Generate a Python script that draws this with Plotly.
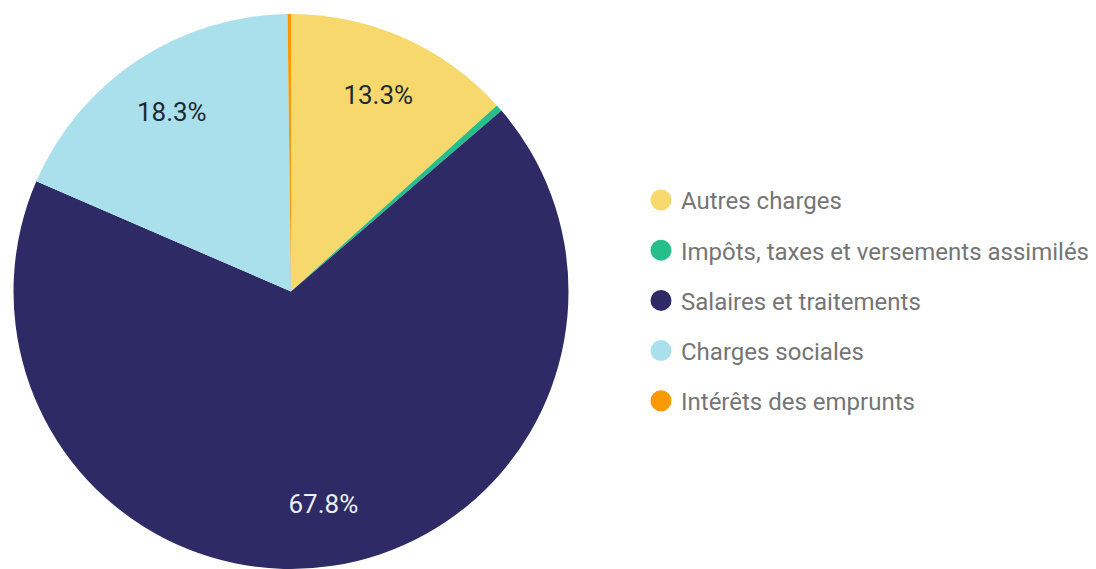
import plotly.graph_objects as go

categories = ["Autres charges", "Impôts, taxes et versements assimilés",
              "Salaires et traitements", "Charges sociales", "Intérêts des emprunts"]
values = [13.3, 0.4, 67.8, 18.3, 0.2]
colors = ["#F6D86C", "#26BE8A", "#2D2A66", "#AAE0EB", "#FA9A00"]
text_colors = ["#1F2A30", "#1F2A30", "#EDEDF5", "#1F2A30", "#1F2A30"]

labels_text = [f"{v:.1f}%" if v >= 1 else "" for v in values]

W, H = 1088, 561
pie_dom = dict(x=[5.5 / W, 560.5 / W], y=[0, 1])

fig = go.Figure()
# coloured slices
fig.add_trace(go.Pie(
    labels=categories, values=values, sort=False, direction="clockwise",
    rotation=0, marker=dict(colors=colors, line=dict(width=0)),
    textinfo="none", showlegend=False, hoverinfo="label+percent",
    domain=pie_dom,
))
# transparent ring carrying the percentage labels (places them toward the rim)
fig.add_trace(go.Pie(
    labels=categories, values=values, sort=False, direction="clockwise",
    rotation=0, hole=0.55,
    marker=dict(colors=["rgba(0,0,0,0)"] * len(values), line=dict(width=0)),
    text=labels_text, textinfo="text", textposition="inside",
    insidetextorientation="horizontal",
    insidetextfont=dict(family="Roboto", size=26, color=text_colors),
    showlegend=False, hoverinfo="skip",
    domain=pie_dom,
))
for i, (c, col) in enumerate(zip(categories, colors)):
    fig.add_trace(go.Scatter(
        x=[None], y=[None], mode="markers", name=c,
        marker=dict(color=col, size=16, symbol="circle",
                    line=dict(color=col, width=6)),
        legendgroup=f"g{i}", showlegend=True,
    ))

fig.update_layout(
    width=W, height=H,
    margin=dict(l=0, r=0, t=6, b=0),
    paper_bgcolor="white", plot_bgcolor="white",
    xaxis=dict(visible=False), yaxis=dict(visible=False),
    font=dict(family="Roboto"),
    legend=dict(x=633 / W, xanchor="left", y=0.484, yanchor="middle",
                font=dict(family="Roboto", size=24, color="#757575"),
                tracegroupgap=16, itemclick=False, itemdoubleclick=False),
)
fig.write_html("out.html")
